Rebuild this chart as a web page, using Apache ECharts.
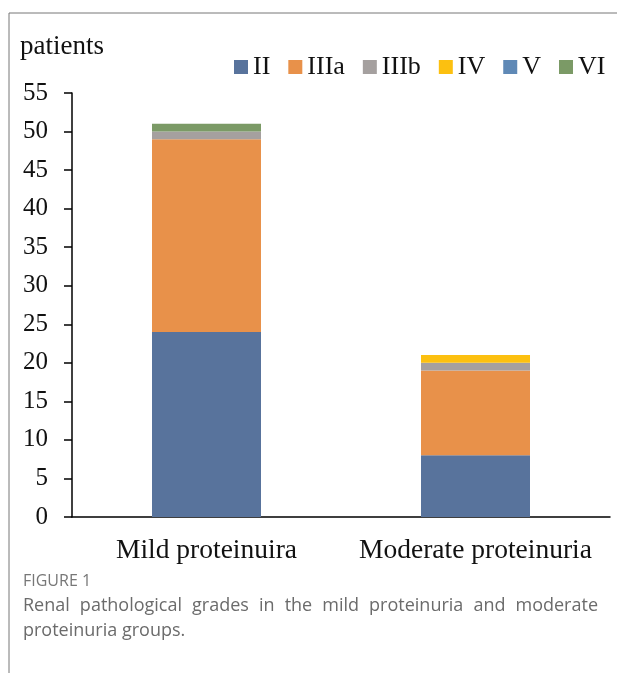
<!DOCTYPE html>
<html><head><meta charset="utf-8">
<script src="https://cdn.jsdelivr.net/npm/echarts@6/dist/echarts.min.js"></script>
<style>html,body{margin:0;padding:0;background:#fff}#c{width:617px;height:673px}</style>
</head><body><div id="c"></div>
<script>
const categories = ['Mild proteinuira', 'Moderate proteinuria'];
const seriesNames = ['II', 'IIIa', 'IIIb', 'IV', 'V', 'VI'];
const valII = [24, 8];
const valIIIa = [25, 11];
const valIIIb = [1, 1];
const valIV = [0, 1];
const valV = [0, 0];
const valVI = [1, 0];
const colors = ['#58739c', '#e8914a', '#a5a09f', '#fcc010', '#5f89b6', '#7b9a66'];
const yTicks = {min: 0, max: 55, interval: 5};
const captionTitle = 'FIGURE 1';
const captionLines = ['Renal pathological grades in the mild proteinuria and moderate', 'proteinuria groups.'];

const allVals = [valII, valIIIa, valIIIb, valIV, valV, valVI];
const serif = '"Liberation Serif","Times New Roman",serif';
const sans = '"Open Sans","Noto Sans",sans-serif';

const chart = echarts.init(document.getElementById('c'), null, {renderer: 'canvas'});

// justified caption words
const ctx = document.createElement('canvas').getContext('2d');
const capFont = '18px "Open Sans"';
ctx.font = capFont;
const capGraphics = [];
const capLeft = 23, capRight = 598;
captionLines.forEach((line, i) => {
  const y = 608 + i * 25;
  if (i < captionLines.length - 1) {
    const words = line.split(' ');
    const total = words.reduce((s, w) => s + ctx.measureText(w).width, 0);
    const gap = (capRight - capLeft - total) / (words.length - 1);
    let x = capLeft;
    words.forEach(w => {
      capGraphics.push({type: 'text', left: x, top: y - 11, style: {text: w, font: capFont, fill: '#6b6b6b'}});
      x += ctx.measureText(w).width + gap;
    });
  } else {
    capGraphics.push({type: 'text', left: capLeft, top: y - 11, style: {text: line, font: capFont, fill: '#6b6b6b'}});
  }
});

chart.setOption({
  animation: false,
  color: colors,
  grid: {left: 72, right: 7, top: 93, bottom: 156, containLabel: false},
  legend: {
    data: seriesNames, left: 229, top: 49, icon: 'rect', itemWidth: 14, itemHeight: 14, itemGap: 18,
    textStyle: {fontFamily: serif, fontSize: 26, lineHeight: 26, color: '#111', padding: [0, 0, 0, 0]}
  },
  xAxis: {
    type: 'category', data: categories,
    axisLine: {lineStyle: {color: '#000', width: 1.5}},
    axisTick: {show: false},
    axisLabel: {fontFamily: serif, fontSize: 27.5, color: '#111', margin: 20, interval: 0, hideOverlap: false}
  },
  yAxis: {
    type: 'value', min: yTicks.min, max: yTicks.max, interval: yTicks.interval,
    axisLine: {show: true, lineStyle: {color: '#000', width: 1.5}},
    axisTick: {show: true, length: 8, lineStyle: {color: '#000', width: 1.5}},
    splitLine: {show: false},
    axisLabel: {fontFamily: serif, fontSize: 25, color: '#111', margin: 24}
  },
  graphic: [
    {type: 'line', shape: {x1: 9, y1: 13, x2: 617, y2: 13}, style: {stroke: '#777', lineWidth: 1}},
    {type: 'line', shape: {x1: 9, y1: 13, x2: 9, y2: 673}, style: {stroke: '#777', lineWidth: 1}},
    {type: 'text', left: 20, top: 33, style: {text: 'patients', font: '27px ' + serif, fill: '#111'}},
    {type: 'text', left: 23, top: 573, style: {text: captionTitle, font: '16px ' + sans, fill: '#777'}},
    ...capGraphics
  ],
  series: seriesNames.map((n, i) => ({
    name: n, type: 'bar', stack: 'total', barWidth: 109, data: allVals[i],
    itemStyle: {color: colors[i]}
  }))
});
</script></body></html>
